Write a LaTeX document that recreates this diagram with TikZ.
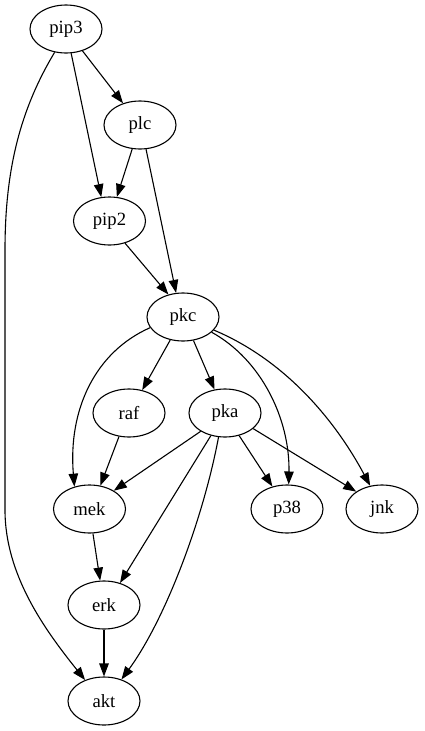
\documentclass[tikz,border=0pt]{standalone}
\usepackage{fontspec}
\setmainfont{Liberation Serif}
\usetikzlibrary{shapes.geometric,arrows.meta}
\begin{document}
\begin{tikzpicture}[x=1pt,y=-1pt,
  nd/.style={draw,ellipse,minimum width=72pt,minimum height=48pt,inner sep=0pt,line width=1.1pt,font=\fontsize{18.67}{22}\selectfont},
  ed/.style={draw,line width=1.1pt,-{Triangle[length=13pt,width=9.5pt]}}]
\useasboundingbox (0,0) rectangle (424,731);
\node[nd] (pip3) at (66,29) {pip3};
\node[nd] (plc) at (140,125) {plc};
\node[nd] (pip2) at (109.5,221) {pip2};
\node[nd] (pkc) at (183,317) {pkc};
\node[nd] (raf) at (129,413) {raf};
\node[nd] (pka) at (225,413) {pka};
\node[nd] (mek) at (89.5,509) {mek};
\node[nd] (p38) at (287,509) {p38};
\node[nd] (jnk) at (382,509) {jnk};
\node[nd] (erk) at (104,605) {erk};
\node[nd] (akt) at (104,701) {akt};
\draw[ed] (pip3.-53) -- (plc.128);
\draw[ed] (pip3.-78) -- (pip2.109);
\draw[ed] (plc.-108) -- (pip2.73);
\draw[ed] (plc.-76) -- (pkc.106);
\draw[ed] (pip2.-55) -- (pkc.123);
\draw[ed] (pkc.-119) -- (raf.60);
\draw[ed] (pkc.-66) -- (pka.114);
\draw[ed] (pkc.-162) .. controls (95,352) and (68,410) .. (mek.124);
\draw[ed] (pkc.-28) .. controls (262,360) and (290,420) .. (p38.86);
\draw[ed] (pkc.-23) .. controls (285,360) and (335,420) .. (jnk.117);
\draw[ed] (raf.-113) -- (mek.65);
\draw[ed] (pka.-143) -- (mek.37);
\draw[ed] (pka.-122) -- (erk.54);
\draw[ed] (pka.-105) .. controls (203,520) and (165,620) .. (akt.51);
\draw[ed] (pka.-58) -- (p38.123);
\draw[ed] (pka.-29) -- (jnk.146);
\draw[ed] (mek.-82) -- (erk.99);
\draw[ed] (erk.-90) -- (akt.90);
\draw[ed] (pip3.-116) .. controls (20,110) and (5,170) .. (5,250) -- (5,510) .. controls (5,575) and (45,630) .. (akt.132);
\end{tikzpicture}
\end{document}
